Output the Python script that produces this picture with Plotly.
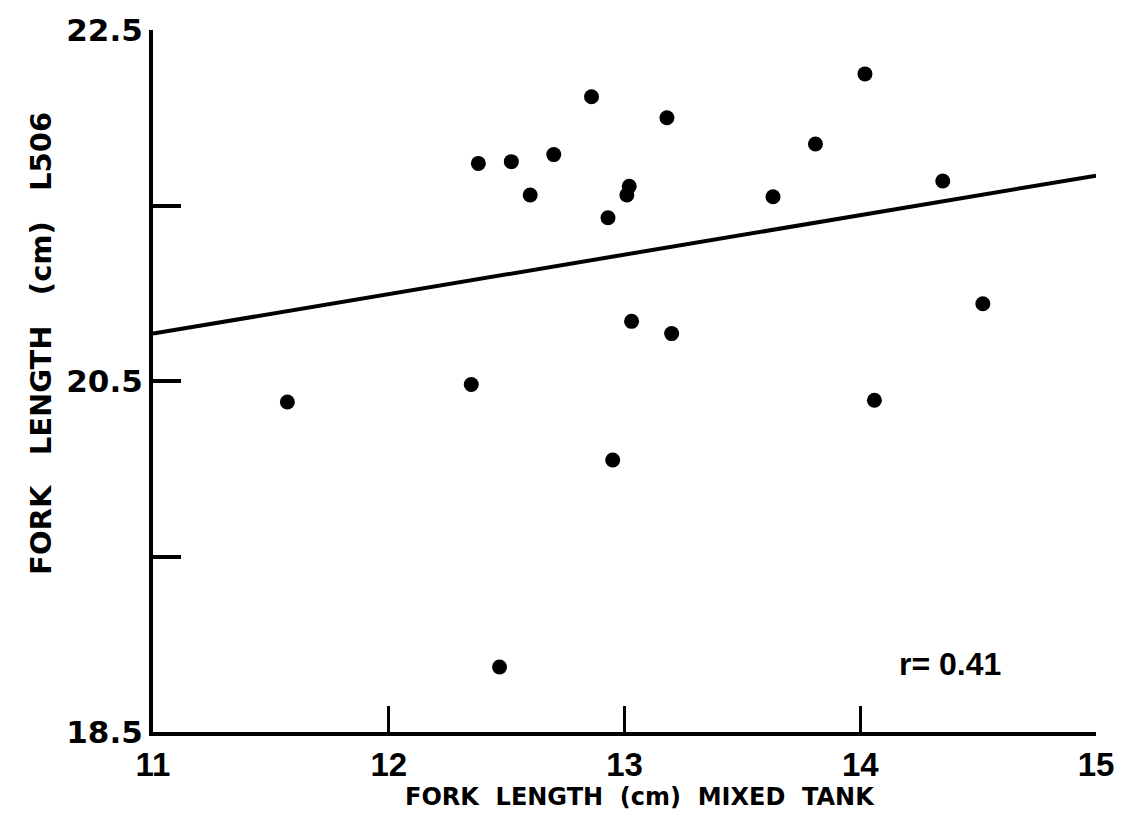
import plotly.graph_objects as go

# data
mixed_tank = [11.57, 12.35, 12.38, 12.52, 12.70, 12.60, 12.86, 12.47, 12.93, 12.95, 13.01,
              13.02, 13.03, 13.20, 13.18, 13.63, 13.81, 14.02, 14.06, 14.35, 14.52]
l506 = [20.38, 20.48, 21.74, 21.75, 21.79, 21.56, 22.12, 18.87, 21.43, 20.05, 21.56,
        21.61, 20.84, 20.77, 22.00, 21.55, 21.85, 22.25, 20.39, 21.64, 20.94]
fit_x = [11, 15]
fit_y = [20.77, 21.67]
x_ticks = [11, 12, 13, 14, 15]
y_ticks = [18.5, 19.5, 20.5, 21.5, 22.5]
y_tick_text = ["18.5", "", "20.5", "", "22.5"]
r_text = "r= 0.41"

W, H = 1126, 831
L, R, T, B = 153, 26, 24, 99
pw, ph = W - L - R, H - T - B
def px(xp): return (xp - L) / pw
def py(yp): return (H - B - yp) / ph

fig = go.Figure()
fig.add_trace(go.Scatter(x=fit_x, y=fit_y, mode="lines",
                         line=dict(color="black", width=4), showlegend=False))
fig.add_trace(go.Scatter(x=mixed_tank, y=l506, mode="markers",
                         marker=dict(color="black", size=15), showlegend=False))

fig.add_annotation(x=14.38, y=18.89, xref="x", yref="y", text=r_text, showarrow=False,
                   font=dict(family="Liberation Sans", size=32, color="black", weight="bold"))
fig.add_annotation(x=px(642), y=py(814), xref="paper", yref="paper",
                   text="FORK  LENGTH  (cm)  MIXED  TANK", showarrow=False,
                   font=dict(family="DejaVu Sans", size=24, color="black", weight="bold"))
fig.add_annotation(x=px(22), y=py(340), xref="paper", yref="paper", textangle=-90,
                   text="FORK   LENGTH   (cm)   L506", showarrow=False,
                   font=dict(family="DejaVu Sans", size=29, color="black", weight="bold"))

fig.update_layout(
    width=W, height=H,
    margin=dict(l=L, r=R, t=T, b=B),
    paper_bgcolor="white", plot_bgcolor="white",
    xaxis=dict(range=[11, 15], tickmode="array", tickvals=x_ticks,
               ticks="inside", ticklen=26, tickwidth=3, tickcolor="black",
               showline=True, linecolor="black", linewidth=4, showgrid=False, zeroline=False,
               tickfont=dict(family="Liberation Sans", size=33, color="black", weight="bold")),
    yaxis=dict(range=[18.5, 22.5], tickmode="array", tickvals=y_ticks, ticktext=y_tick_text,
               ticks="inside", ticklen=28, tickwidth=4, tickcolor="black",
               showline=True, linecolor="black", linewidth=4, showgrid=False, zeroline=False,
               tickfont=dict(family="DejaVu Sans", size=31, color="black", weight="bold")),
)
fig.write_html("out.html")
